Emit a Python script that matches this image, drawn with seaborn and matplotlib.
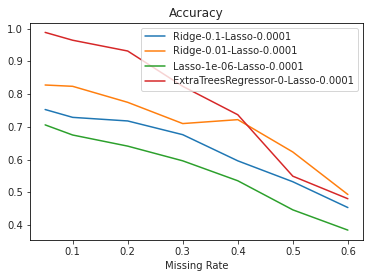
import matplotlib
matplotlib.use("Agg")
import matplotlib.pyplot as plt
import seaborn as sns
import pandas as pd

missing_rate = [0.05, 0.1, 0.2, 0.3, 0.4, 0.5, 0.6]
ridge_01 = [0.753, 0.729, 0.718, 0.676, 0.596, 0.532, 0.453]
ridge_001 = [0.828, 0.824, 0.775, 0.710, 0.722, 0.623, 0.493]
lasso_1e6 = [0.706, 0.675, 0.641, 0.596, 0.535, 0.446, 0.384]
extratrees = [0.989, 0.965, 0.932, 0.824, 0.737, 0.549, 0.480]
labels = ["Ridge-0.1-Lasso-0.0001", "Ridge-0.01-Lasso-0.0001",
          "Lasso-1e-06-Lasso-0.0001", "ExtraTreesRegressor-0-Lasso-0.0001"]

rows = []
for lab, vals in zip(labels, [ridge_01, ridge_001, lasso_1e6, extratrees]):
    for x, v in zip(missing_rate, vals):
        rows.append({"Missing Rate": x, "Accuracy": v, "method": lab})
df = pd.DataFrame(rows)

sns.set_style("ticks")
plt.rcParams["font.family"] = ["DejaVu Sans"]
plt.rcParams["font.size"] = 10

fig = plt.figure(figsize=(372/72, 278/72), dpi=72)
ax = fig.add_axes([30/372, 1-240/278, 333/372, 217.5/278])
sns.lineplot(data=df, x="Missing Rate", y="Accuracy", hue="method",
             palette="tab10", ax=ax, linewidth=1.5)
ax.set_title("Accuracy", fontsize=12)
ax.set_ylabel("")
ax.set_xlabel("Missing Rate", fontsize=10)
ax.tick_params(labelsize=10)
ax.set_xticks([0.1, 0.2, 0.3, 0.4, 0.5, 0.6])
ax.set_yticks([0.4, 0.5, 0.6, 0.7, 0.8, 0.9, 1.0])
ax.legend(loc="upper right", fontsize=10, title=None)
for s in ax.spines.values():
    s.set_visible(True)
    s.set_color("black")
fig.savefig("out.png", dpi=72)
